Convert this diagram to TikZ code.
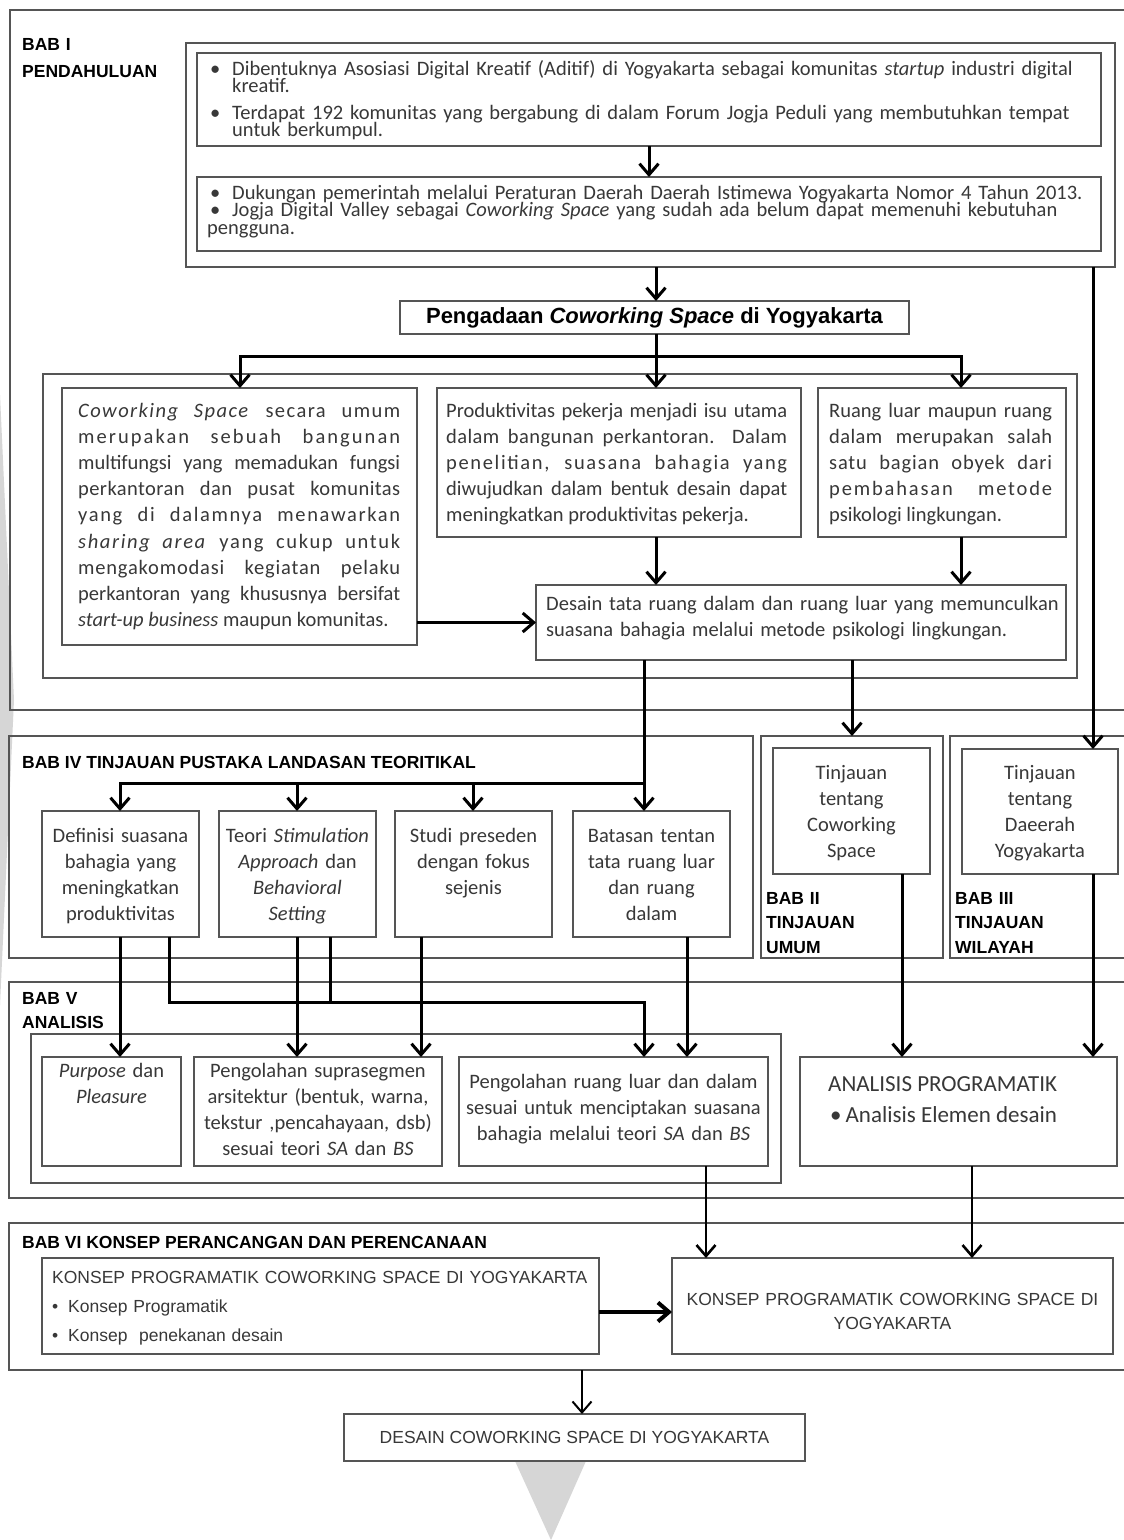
\documentclass[tikz,border=0pt]{standalone}
\usepackage{fontspec}
\setmainfont{Carlito}
\newfontfamily\arialf{Liberation Sans}
\usetikzlibrary{arrows.meta,fit}
\definecolor{boxgray}{HTML}{555555}
\definecolor{txtgray}{HTML}{383838}
\definecolor{wmgray}{HTML}{D6D6D6}
\newcommand{\nolsl}{\lineskiplimit=-50pt\relax}
\newcommand{\bodyf}{\fontsize{20.5pt}{26.2pt}\selectfont\nolsl}
\newcommand{\topf}[1]{\fontsize{20.5pt}{#1}\selectfont\nolsl}
\newcommand{\titf}[1]{\arialf\bfseries\fontsize{17.5pt}{#1}\selectfont\nolsl}
\newcommand{\capf}[1]{\arialf\fontsize{17.5pt}{#1}\selectfont\nolsl}
\newcommand{\jst}{\tolerance=10000\hyphenpenalty=10000\hbadness=10000\relax}
\newcommand{\lsp}[2]{{\addfontfeature{LetterSpace=#1}#2}}
\tikzset{
  frm/.style={draw=boxgray, line width=1.4pt, inner sep=0pt, outer sep=0pt},
  conn/.style={line width=3pt, draw=black},
  arr/.style={conn, -{Straight Barb[length=11pt,width=19pt]}},
  body/.style={inner sep=0pt, text=txtgray, font=\bodyf},
  topt/.style={inner sep=0pt, text=txtgray},
  tit/.style={inner sep=0pt, text=black},
  capt/.style={inner sep=0pt, text=txtgray},
}
\begin{document}
\begin{tikzpicture}[x=1pt,y=-1pt]
\useasboundingbox (0,0) rectangle (1124,1540);
\clip (0,0) rectangle (1124,1540);
\fill[white] (0,0) rectangle (1124,1540);
% watermark
\fill[wmgray] (0,395) -- (14,700) -- (0,1005) -- cycle;
\fill[wmgray] (515,1461) -- (586,1461) -- (551,1540) -- cycle;

% column / row helpers
\foreach \xx in {120,169,240,297,330,421,473,582,644,649,656,687,706,852,902,961,972,1093}
  {\coordinate (x\xx) at (\xx,0);}
\foreach \yy in {356,783,1002,1312}
  {\coordinate (y\yy) at (0,\yy);}

% frames
\node[frm, fit={(10,10) (1150,710)}] (F1) {};
\node[frm, fit={(9,736) (753,958)}] (F4) {};
\node[frm, fit={(761,736) (943,958)}] (F2) {};
\node[frm, fit={(950,736) (1150,958)}] (F3) {};
\node[frm, fit={(9,982) (1150,1198)}] (F5) {};
\node[frm, fit={(9,1223) (1150,1370)}] (F6) {};

% boxes
\node[frm, fit={(186,43) (1115,267)}] (T0) {};
\node[frm, fit={(197,53) (1101,146)}] (T1) {};
\node[frm, fit={(197,177) (1101,251)}] (T2) {};
\node[frm, fit={(400,301) (909,334)}] (P) {};
\node[frm, fit={(43,374) (1077,678)}] (C0) {};
\node[frm, fit={(62,388) (417,645)}] (A) {};
\node[frm, fit={(437,388) (801,537)}] (B) {};
\node[frm, fit={(818,388) (1066,537)}] (Cb) {};
\node[frm, fit={(536,585) (1066,660)}] (D) {};
\node[frm, fit={(42,811) (199,937)}] (Def) {};
\node[frm, fit={(219,811) (376,937)}] (Teo) {};
\node[frm, fit={(395,811) (552,937)}] (Stu) {};
\node[frm, fit={(573,811) (730,937)}] (Bat) {};
\node[frm, fit={(773,748) (930,874)}] (TC) {};
\node[frm, fit={(962,749) (1118,874)}] (TD) {};
\node[frm, fit={(31,1034) (781,1183)}] (V0) {};
\node[frm, fit={(42,1057) (181,1166)}] (Pur) {};
\node[frm, fit={(194,1057) (442,1166)}] (Sup) {};
\node[frm, fit={(459,1057) (768,1166)}] (Rua) {};
\node[frm, fit={(800,1057) (1117,1166)}] (AP) {};
\node[frm, fit={(42,1258) (599,1354)}] (K1) {};
\node[frm, fit={(672,1258) (1113,1354)}] (K2) {};
\node[frm, fit={(344,1414) (805,1461)}] (DS) {};

% titles
\node[tit, font={\titf{27pt}}, anchor=base west, text width=200pt, align=left] (tB1) at (22,50) {BAB I\\PENDAHULUAN};
\node[tit, font={\titf{24pt}}, anchor=base west] (tB4) at (22,768) {BAB IV TINJAUAN PUSTAKA LANDASAN TEORITIKAL};
\node[tit, font={\titf{24.5pt}}, anchor=base west, text width=170pt, align=left] (tB2) at (766,904) {BAB II\\TINJAUAN\\UMUM};
\node[tit, font={\titf{24.5pt}}, anchor=base west, text width=170pt, align=left] (tB3) at (955,904) {BAB III\\TINJAUAN\\WILAYAH};
\node[tit, font={\titf{24pt}}, anchor=base west, text width=200pt, align=left] (tB5) at (22,1004) {BAB V\\ANALISIS};
\node[tit, font={\titf{24pt}}, anchor=base west] (tB6) at (22,1248) {BAB VI KONSEP PERANCANGAN DAN PERENCANAAN};

% top texts
\node[topt, font={\topf{17.7pt}}, anchor=base west, text width=900pt, align=left] (tT1) at (210,75)
 {\makebox[22pt][l]{\textbullet}Dibentuknya Asosiasi Digital Kreatif (Aditif) di Yogyakarta sebagai komunitas \textit{startup} industri digital\\
  \hspace*{22pt}kreatif.\\[8.6pt]
  \makebox[22pt][l]{\textbullet}Terdapat 192 komunitas yang bergabung di dalam Forum Jogja Peduli yang membutuhkan tempat\\
  \hspace*{22pt}untuk berkumpul.};
\node[topt, font={\topf{17.5pt}}, anchor=base west, text width=900pt, align=left] (tT2) at (207,199)
 {\hspace*{3pt}\makebox[22pt][l]{\textbullet}Dukungan pemerintah melalui Peraturan Daerah Daerah Istimewa Yogyakarta Nomor 4 Tahun 2013.\\
  \hspace*{3pt}\makebox[22pt][l]{\textbullet}Jogja Digital Valley sebagai \textit{Coworking Space} yang sudah ada belum dapat memenuhi kebutuhan\\
  pengguna.};
\node[inner sep=0pt, text=black, font={\arialf\bfseries\fontsize{22pt}{26pt}\selectfont}] (tP) at (P.center)
 {Pengadaan \textit{Coworking Space} di Yogyakarta};

% row 2 texts
\node[body, anchor=base west, text width=322pt, align=justify] (tA) at (78,417)
 {\jst\parfillskip=0pt \lsp{7}{\textit{Coworking Space} secara umum}\linebreak
  \lsp{10}{merupakan sebuah bangunan}\linebreak
  multifungsi yang memadukan fungsi\linebreak
  \lsp{2}{perkantoran dan pusat komunitas}\linebreak
  \lsp{8}{yang di dalamnya menawarkan}\linebreak
  \lsp{8}{\textit{sharing area} yang cukup untuk}\linebreak
  \lsp{4}{mengakomodasi kegiatan pelaku}\linebreak
  perkantoran yang khususnya bersifat\linebreak
  \textit{start-up business} maupun komunitas.};
\node[body, anchor=base west, text width=341pt, align=justify] (tBt) at (446,417)
 {\jst Produktivitas pekerja menjadi isu utama\linebreak
  \lsp{2}{dalam bangunan perkantoran. Dalam}\linebreak
  \lsp{8}{penelitian, suasana bahagia yang}\linebreak
  diwujudkan dalam bentuk desain dapat\linebreak
  meningkatkan produktivitas pekerja.};
\node[body, anchor=base west, text width=223pt, align=justify] (tC) at (829,417)
 {\jst Ruang luar maupun ruang\linebreak
  \lsp{2}{dalam merupakan salah}\linebreak
  \lsp{4}{satu bagian obyek dari}\linebreak
  \lsp{9}{pembahasan metode}\linebreak
  psikologi lingkungan.};
\node[body, anchor=base west, text width=515pt, align=left] (tD) at (546,610)
 {Desain tata ruang dalam dan ruang luar yang memunculkan\\
  suasana bahagia melalui metode psikologi lingkungan.};

% BAB IV texts
\node[body, anchor=base, text width=152pt, align=center] (tDef) at (120.5,842)
 {Definisi suasana\\bahagia yang\\meningkatkan\\produktivitas};
\node[body, anchor=base, text width=152pt, align=center] (tTeo) at (297.5,842)
 {Teori \textit{Stimulation}\\\textit{Approach} dan\\\textit{Behavioral}\\\textit{Setting}};
\node[body, anchor=base, text width=152pt, align=center] (tStu) at (473.5,842)
 {Studi preseden\\dengan fokus\\sejenis};
\node[body, anchor=base, text width=152pt, align=center] (tBat) at (651.5,842)
 {Batasan tentan\\tata ruang luar\\dan ruang\\dalam};
\node[body, anchor=base, text width=150pt, align=center] (tTC) at (851.5,779)
 {Tinjauan\\tentang\\Coworking\\Space};
\node[body, anchor=base, text width=150pt, align=center] (tTD) at (1040,779)
 {Tinjauan\\tentang\\Daeerah\\Yogyakarta};

% BAB V texts
\node[body, anchor=base, text width=135pt, align=center] (tPur) at (111.5,1077)
 {\textit{Purpose} dan\\\textit{Pleasure}};
\node[body, anchor=base, text width=245pt, align=center] (tSup) at (318,1077)
 {Pengolahan suprasegmen\\arsitektur (bentuk, warna,\\tekstur ,pencahayaan, dsb)\\sesuai teori \textit{SA} dan \textit{BS}};
\node[body, anchor=base, text width=305pt, align=center] (tRua) at (613.5,1088)
 {Pengolahan ruang luar dan dalam\\sesuai untuk menciptakan suasana\\bahagia melalui teori \textit{SA} dan \textit{BS}};
\node[inner sep=0pt, text=txtgray, font={\fontsize{23pt}{28pt}\selectfont}, anchor=base west] (tAP1) at (828,1091)
 {ANALISIS PROGRAMATIK};
\node[inner sep=0pt, text=txtgray, font={\fontsize{23pt}{28pt}\selectfont}, anchor=base west] (tAP2) at (830,1122)
 {\textbullet\hspace{4pt}Analisis Elemen desain};

% BAB VI texts
\node[capt, font={\capf{29pt}}, anchor=base west, text width=560pt, align=left] (tK1) at (52,1283)
 {KONSEP PROGRAMATIK COWORKING SPACE DI YOGYAKARTA\\
  \makebox[16pt][l]{\textbullet}Konsep Programatik\\
  \makebox[16pt][l]{\textbullet}Konsep\ \ penekanan desain};
\node[capt, font={\capf{24pt}}, anchor=base, text width=435pt, align=center] (tK2) at (892.5,1305)
 {KONSEP PROGRAMATIK COWORKING SPACE DI\\YOGYAKARTA};
\node[capt, font={\capf{24pt}}] (tDS) at (DS.center) {DESAIN COWORKING SPACE DI YOGYAKARTA};

% connectors
\draw[arr] (T1.south -| x649) -- (T2.north -| x649);
\draw[arr] (T0.south -| x656) -- (P.north -| x656);
\draw[arr] (P.south -| x656) -- (B.north -| x656);
\draw[arr] (x656 |- y356) -| (A.north -| x240);
\draw[arr] (x656 |- y356) -| (Cb.north -| x961);
\draw[arr] (B.south -| x656) -- (D.north -| x656);
\draw[arr] (Cb.south -| x961) -- (D.north -| x961);
\draw[arr] (A.east |- D.west) -- (D.west);
\draw[arr] (T0.south -| x1093) -- (TD.north -| x1093);
\draw[arr] (D.south -| x644) -- (Bat.north -| x644);
\draw[arr] (x644 |- y783) -| (Def.north -| x120);
\draw[arr] (x297 |- y783) -- (Teo.north -| x297);
\draw[arr] (x473 |- y783) -- (Stu.north -| x473);
\draw[arr] (D.south -| x852) -- (F2.north -| x852);
\draw[arr] (Def.south -| x120) -- (Pur.north -| x120);
\draw[arr] (Def.south -| x169) |- (x644 |- y1002) -- (Rua.north -| x644);
\draw[conn] (Teo.south -| x330) -- (x330 |- y1002);
\draw[arr] (Teo.south -| x297) -- (Sup.north -| x297);
\draw[arr] (Stu.south -| x421) -- (Sup.north -| x421);
\draw[arr] (Bat.south -| x687) -- (Rua.north -| x687);
\draw[arr] (TC.south -| x902) -- (AP.north -| x902);
\draw[arr] (TD.south -| x1093) -- (AP.north -| x1093);
\draw[arr, line width=2.6pt] (Rua.south -| x706) -- (K2.north -| x706);
\draw[arr, line width=2.6pt] (AP.south -| x972) -- (K2.north -| x972);
\draw[arr, line width=4pt] (K1.east |- y1312) -- (K2.west |- y1312);
\draw[arr, line width=2pt] (F6.south -| x582) -- (DS.north -| x582);
\end{tikzpicture}
\end{document}
